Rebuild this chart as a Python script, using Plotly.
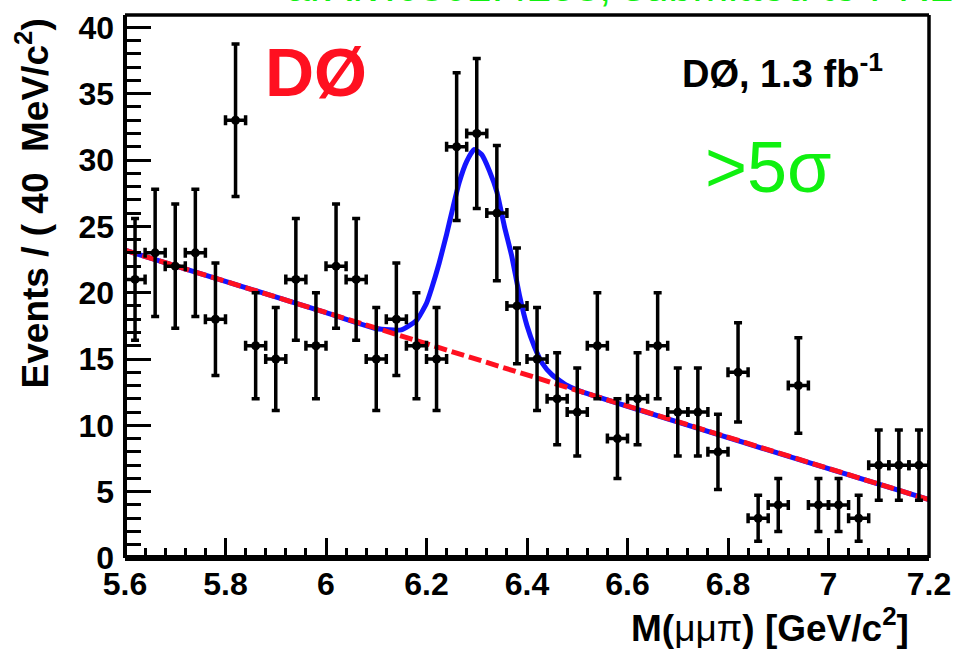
import plotly.graph_objects as go

# ---- data ----
bin_centers = [5.62, 5.66, 5.70, 5.74, 5.78, 5.82, 5.86, 5.90, 5.94, 5.98,
               6.02, 6.06, 6.10, 6.14, 6.18, 6.22, 6.26, 6.30, 6.34, 6.38,
               6.42, 6.46, 6.50, 6.54, 6.58, 6.62, 6.66, 6.70, 6.74, 6.78,
               6.82, 6.86, 6.90, 6.94, 6.98, 7.02, 7.06, 7.10, 7.14, 7.18]
events = [21, 23, 22, 23, 18, 33, 16, 15, 21, 16,
          22, 21, 15, 18, 16, 15, 31, 32, 26, 19,
          15, 12, 11, 16, 9, 12, 16, 11, 11, 8,
          14, 3, 4, 13, 4, 4, 3, 7, 7, 7]
bin_half_width = 0.02

# total fit (signal + background)
fit_x = [5.60, 6.00, 6.10, 6.15, 6.18, 6.20, 6.21, 6.225, 6.24, 6.25,
         6.265, 6.28, 6.295, 6.31, 6.325, 6.34, 6.355, 6.37, 6.385, 6.40,
         6.415, 6.43, 6.45, 6.48, 6.50, 7.20]
fit_y = [23.2, 18.5, 17.3, 17.2, 17.9, 19.2, 20.3, 22.2, 24.4, 26.0,
         28.3, 29.9, 30.8, 30.4, 29.2, 27.6, 25.0, 22.7, 19.8, 17.5,
         15.9, 14.7, 13.8, 13.0, 12.65, 4.4]

# background fit
bkg_x = [5.60, 7.20]
bkg_y = [23.2, 4.4]

x_tickvals = [5.6, 5.8, 6.0, 6.2, 6.4, 6.6, 6.8, 7.0, 7.2]
x_ticktext = ["5.6", "5.8", "6", "6.2", "6.4", "6.6", "6.8", "7", "7.2"]
y_tickvals = [0, 5, 10, 15, 20, 25, 30, 35, 40]

x_range = [5.6, 7.2]
y_range = [0, 40.93]

FONT = "Liberation Sans"
errors = [n ** 0.5 for n in events]

fig = go.Figure()

fig.add_trace(go.Scatter(
    x=fit_x, y=fit_y, mode="lines",
    line=dict(color="#1414ff", width=5, shape="spline", smoothing=0.5),
    hoverinfo="skip", showlegend=False))

fig.add_trace(go.Scatter(
    x=bkg_x, y=bkg_y, mode="lines",
    line=dict(color="#ff1020", width=5, dash="13px,5px"),
    hoverinfo="skip", showlegend=False))

fig.add_trace(go.Scatter(
    x=bin_centers, y=events, mode="markers",
    marker=dict(color="black", size=9, symbol="circle"),
    error_y=dict(type="data", array=errors, visible=True,
                 color="black", thickness=3.5, width=4),
    error_x=dict(type="constant", value=bin_half_width, visible=True,
                 color="black", thickness=3.5, width=5),
    showlegend=False))

L, R, T, B = 125, 24, 10, 94

fig.update_layout(
    width=961, height=652,
    margin=dict(l=L, r=R, t=T, b=B, pad=0),
    paper_bgcolor="white", plot_bgcolor="white",
    showlegend=False,
    xaxis=dict(
        range=x_range, showgrid=False, zeroline=False, showline=False,
        tickmode="array", tickvals=x_tickvals, ticktext=x_ticktext,
        ticks="inside", ticklen=20, tickwidth=3, tickcolor="black",
        minor=dict(ticks="inside", ticklen=10, tickwidth=3, tickcolor="black",
                   tick0=5.6, dtick=0.04),
        tickfont=dict(family=FONT, size=32, color="black", weight="bold"),
        ticklabelstandoff=4,
    ),
    yaxis=dict(
        range=y_range, showgrid=False, zeroline=False, showline=False,
        tickmode="array", tickvals=y_tickvals,
        ticks="inside", ticklen=26, tickwidth=3, tickcolor="black",
        minor=dict(ticks="inside", ticklen=16, tickwidth=3, tickcolor="black",
                   tick0=0, dtick=1),
        tickfont=dict(family=FONT, size=32, color="black", weight="bold"),
        ticklabelstandoff=10,
    ),
)

# frame
fig.add_shape(type="line", xref="paper", yref="paper", x0=0, x1=1, y0=0, y1=0,
              line=dict(color="black", width=6), layer="above")
fig.add_shape(type="line", xref="paper", yref="paper", x0=0, x1=0, y0=0, y1=1,
              line=dict(color="black", width=4), layer="above")
fig.add_shape(type="line", xref="paper", yref="paper", x0=0, x1=1, y0=1, y1=1,
              line=dict(color="black", width=3.5), layer="above")
fig.add_shape(type="line", xref="paper", yref="paper", x0=1, x1=1, y0=0, y1=1,
              line=dict(color="black", width=3.5), layer="above")

W = 961 - L - R
H = 652 - T - B


def px(xp):
    return (xp - L) / W


def py(yp):
    return (652 - B - yp) / H


# axis titles
fig.add_annotation(
    text="<b>Events / ( 40 \u00a0MeV/c<sup>2</sup>)</b>",
    xref="paper", yref="paper", x=px(32), y=py(389),
    xanchor="center", yanchor="bottom", textangle=-90, showarrow=False,
    font=dict(family=FONT, size=37, color="black"))
fig.add_annotation(
    text="<b>M(</b>\u03bc\u03bc\u03c0<b>) [GeV/c<sup>2</sup>]</b>",
    xref="paper", yref="paper", x=px(919), y=py(626),
    xanchor="right", yanchor="middle", showarrow=False,
    font=dict(family=FONT, size=37, color="black"))

# labels inside the plot
fig.add_annotation(
    text="<b>D\u00d8</b>", xref="paper", yref="paper", x=px(318), y=py(68),
    xanchor="center", yanchor="middle", showarrow=False,
    font=dict(family=FONT, size=68, color="#ff1020"))
fig.add_annotation(
    text="<b>D\u00d8, 1.3 fb<sup>-1</sup></b>", xref="paper", yref="paper",
    x=px(686), y=py(67), xanchor="left", yanchor="middle", showarrow=False,
    font=dict(family=FONT, size=38, color="black"))
fig.add_annotation(
    text=">5\u03c3", xref="paper", yref="paper", x=px(709), y=py(163),
    xanchor="left", yanchor="middle", showarrow=False,
    font=dict(family=FONT, size=72, color="#10f010"))
fig.add_annotation(
    text="arXiv:0802.4258, submitted to PRL", xref="paper", yref="paper",
    x=px(286), y=py(6.5), xanchor="left", yanchor="bottom", showarrow=False,
    font=dict(family=FONT, size=43, color="#10f010"))

fig.write_html("out.html", config={"displayModeBar": False},
               post_script="document.body.style.margin='0';")
